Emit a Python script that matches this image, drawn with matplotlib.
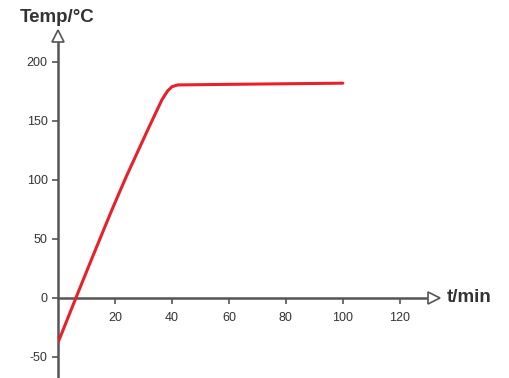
import matplotlib
matplotlib.use('Agg')
import matplotlib.pyplot as plt

# heating curve
t = [0, 6.3, 12, 19, 24, 32, 36.5, 38.5, 40, 42, 60, 80, 100]
temp = [-38, 0, 34, 75, 103, 145, 168, 175.5, 179, 180.5, 181, 181.5, 182]

x_ticks = [20, 40, 60, 80, 100, 120]
y_ticks = [-50, 0, 50, 100, 150, 200]

plt.rcParams['font.family'] = ['Liberation Sans', 'DejaVu Sans']
plt.rcParams['axes.unicode_minus'] = False
axc = '#555555'

fig = plt.figure(figsize=(5.09, 3.78), dpi=100)
ax = fig.add_axes([58/509, 0.0, 376/509, (378-36)/378])
ax.set_xlim(0, 132)
ax.set_ylim(-68, 222)

ax.plot(t, temp, color='#e8202a', lw=2.2, solid_capstyle='round',
        solid_joinstyle='round', zorder=3)

for s in ['top', 'right']:
    ax.spines[s].set_visible(False)
ax.spines['bottom'].set_position(('data', 0))
ax.spines['left'].set_position(('data', 0))
for s in ['bottom', 'left']:
    ax.spines[s].set_color(axc)
    ax.spines[s].set_linewidth(1.8)

ax.set_xticks(x_ticks)
ax.set_yticks(y_ticks)
ax.tick_params(axis='both', colors=axc, labelcolor='#333333', labelsize=9,
               length=4, width=1.2, direction='out')
ax.tick_params(axis='x', pad=6)

# hollow arrow heads
ax.plot(1.0, 0, marker='>', ms=8, mfc='white', mec=axc, mew=1.2,
        transform=ax.get_yaxis_transform(), clip_on=False, zorder=4)
ax.plot(0, 1.0, marker='^', ms=8, mfc='white', mec=axc, mew=1.2,
        transform=ax.get_xaxis_transform(), clip_on=False, zorder=4)

fig.text(20/509, 1 - 17/378, 'Temp/°C', fontsize=13.5, fontweight='bold',
         color='#333333', va='center', ha='left')
fig.text(447/509, 1 - 298/378, 't/min', fontsize=13.5, fontweight='bold',
         color='#333333', va='center', ha='left')

fig.savefig('out.png', dpi=100)
